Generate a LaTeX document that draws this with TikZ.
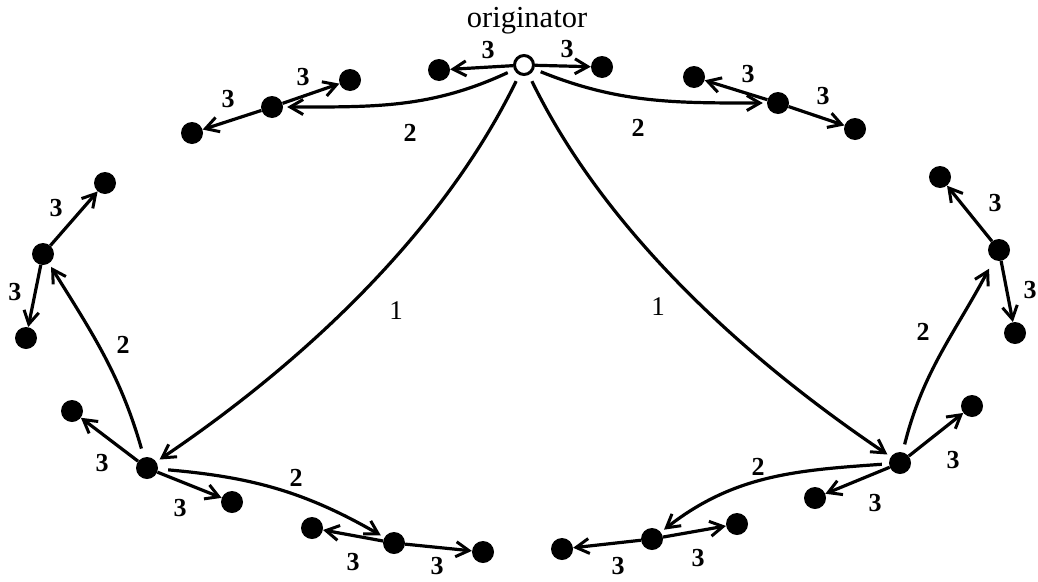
\documentclass[tikz,border=0pt]{standalone}
\usepackage{fontspec}
\setmainfont{Liberation Serif}
\usetikzlibrary{arrows.meta}
\begin{document}
\begin{tikzpicture}[x=1pt,y=1pt,
  dot/.style={circle,fill=black,inner sep=0pt,minimum size=22pt},
  odot/.style={circle,draw=black,fill=white,line width=3pt,inner sep=0pt,minimum size=19pt},
  arr/.style={line width=3.2pt,-{Straight Barb[length=13pt,width=15pt,line width=3pt]}},
  carr/.style={arr,shorten <=7pt,shorten >=4pt},
  lab/.style={font=\fontsize{26}{28}\selectfont\bfseries,inner sep=0pt},
  labn/.style={font=\fontsize{27}{29}\selectfont,inner sep=0pt}]
\useasboundingbox (0,0) rectangle (1038,-581);
% nodes
\node[odot] (orig) at (524,-65) {};
\node[font=\fontsize{30.5}{33}\selectfont,anchor=base,inner sep=0pt] (origtxt) at (527,-27) {originator};
\node[dot] (t1) at (439,-70) {};
\node[dot] (t2) at (602,-67) {};
\node[dot] (lc) at (272,-107) {};
\node[dot] (lu) at (350,-80) {};
\node[dot] (ll) at (192,-133) {};
\node[dot] (rc) at (778,-103) {};
\node[dot] (ru) at (694,-77) {};
\node[dot] (rl) at (855,-129) {};
\node[dot] (sc) at (43,-254) {};
\node[dot] (su) at (105,-183) {};
\node[dot] (sl) at (26,-338) {};
\node[dot] (ec) at (999,-250) {};
\node[dot] (eu) at (940,-177) {};
\node[dot] (el) at (1015,-333) {};
\node[dot] (bl) at (147,-468) {};
\node[dot] (blu) at (72,-411) {};
\node[dot] (blr) at (232,-502) {};
\node[dot] (dc) at (394,-543) {};
\node[dot] (dl) at (312,-528) {};
\node[dot] (dr) at (483,-552) {};
\node[dot] (br) at (900,-463) {};
\node[dot] (bru) at (972,-406) {};
\node[dot] (brl) at (815,-498) {};
\node[dot] (fc) at (652,-539) {};
\node[dot] (fl) at (562,-549) {};
\node[dot] (fr) at (737,-524) {};
% straight arrows
\draw[arr] (orig) -- (t1);
\draw[arr] (orig) -- (t2);
\draw[arr] (lc) -- (lu);
\draw[arr] (lc) -- (ll);
\draw[arr] (rc) -- (ru);
\draw[arr] (rc) -- (rl);
\draw[arr] (sc) -- (su);
\draw[arr] (sc) -- (sl);
\draw[arr] (ec) -- (eu);
\draw[arr] (ec) -- (el);
\draw[arr] (bl) -- (blu);
\draw[arr] (bl) -- (blr);
\draw[arr] (dc) -- (dl);
\draw[arr] (dc) -- (dr);
\draw[arr] (br) -- (bru);
\draw[arr] (br) -- (brl);
\draw[arr] (fc) -- (fl);
\draw[arr] (fc) -- (fr);
% curved arrows
\draw[carr] (orig) to[out=205,in=0] (lc);
\draw[carr] (orig) to[out=-22,in=180] (rc);
\draw[carr] (orig) to[out=244,in=34,looseness=0.85] (bl);
\draw[carr] (orig) to[out=296,in=146,looseness=0.85] (br);
\draw[carr,shorten <=9pt] (bl) to[out=106,in=-58] (sc);
\draw[carr,shorten <=10pt] (bl) to[out=-5,in=150] (dc);
\draw[carr] (br) to[out=184,in=38] (fc);
\draw[carr,shorten <=8pt,shorten >=10pt] (br) to[out=76,in=242] (ec);
% labels
\node[lab] (a1) at (488,-50) {3};
\node[lab] (a2) at (567,-49) {3};
\node[lab] (a3) at (410,-133) {2};
\node[lab] (a4) at (638,-128) {2};
\node[lab] (a5) at (303,-77) {3};
\node[lab] (a6) at (228,-99) {3};
\node[lab] (a7) at (748,-74) {3};
\node[lab] (a8) at (823,-96) {3};
\node[lab] (a9) at (56,-208) {3};
\node[lab] (a10) at (15,-292) {3};
\node[lab] (a11) at (123,-345) {2};
\node[lab] (a12) at (995,-203) {3};
\node[lab] (a13) at (1030,-290) {3};
\node[lab] (a14) at (923,-332) {2};
\node[labn] (a15) at (396,-311) {1};
\node[labn] (a16) at (658,-307) {1};
\node[lab] (a17) at (102,-463) {3};
\node[lab] (a18) at (180,-508) {3};
\node[lab] (a19) at (296,-478) {2};
\node[lab] (a20) at (353,-562) {3};
\node[lab] (a21) at (437,-566) {3};
\node[lab] (a22) at (953,-460) {3};
\node[lab] (a23) at (875,-503) {3};
\node[lab] (a24) at (758,-467) {2};
\node[lab] (a25) at (618,-566) {3};
\node[lab] (a26) at (698,-558) {3};
\end{tikzpicture}
\end{document}
